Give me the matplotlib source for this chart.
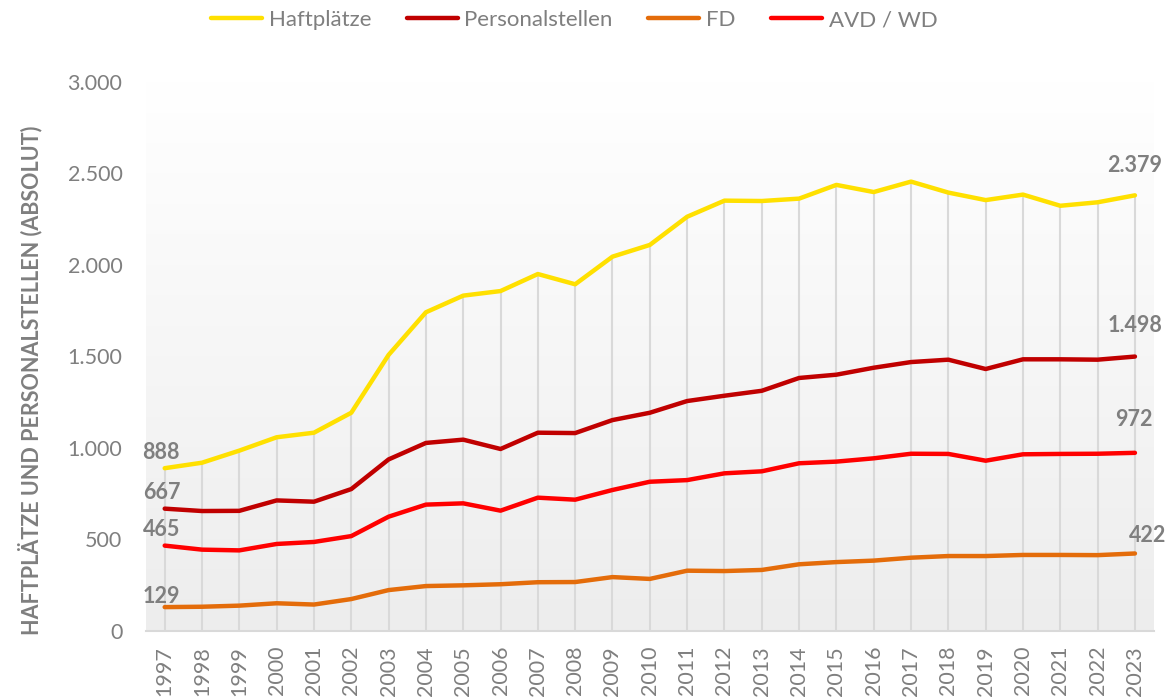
import matplotlib
matplotlib.use("Agg")
import matplotlib.pyplot as plt
import numpy as np

plt.rcParams['font.family'] = ['Lato', 'DejaVu Sans']

years = list(range(1997, 2024))
haftplaetze = [888, 918, 984, 1057, 1082, 1191, 1507, 1740, 1831, 1856, 1949, 1893, 2044, 2108,
               2262, 2350, 2348, 2361, 2436, 2397, 2454, 2394, 2353, 2383, 2322, 2341, 2379]
personal = [667, 654, 655, 712, 705, 774, 936, 1026, 1044, 993, 1082, 1080, 1151, 1191,
            1255, 1284, 1311, 1381, 1399, 1437, 1468, 1481, 1430, 1483, 1483, 1481, 1498]
fd = [129, 131, 137, 150, 143, 173, 222, 244, 248, 254, 265, 266, 293, 283,
      328, 326, 332, 363, 375, 383, 399, 408, 408, 414, 414, 413, 422]
avd = [465, 443, 439, 474, 485, 517, 623, 689, 696, 656, 727, 716, 769, 814,
       823, 860, 871, 915, 924, 942, 967, 966, 929, 964, 966, 967, 972]

series = [("Haftplätze", haftplaetze, "#FFE000"),
          ("Personalstellen", personal, "#C00000"),
          ("FD", fd, "#E46C0A"),
          ("AVD / WD", avd, "#FF0000")]

grey = "#7F7F7F"

fig = plt.figure(figsize=(11.72, 6.97), dpi=100)
ax = fig.add_axes([0.1246, 0.0951, 0.8597, 0.7877])
ax.set_xlim(1996.5, 2023.5)
ax.set_ylim(0, 3000)

# hintergrund: verlauf von weiss (oben) nach hellgrau (unten)
grad = np.linspace(0, 1, 256).reshape(-1, 1)
cmap = matplotlib.colors.LinearSegmentedColormap.from_list("bg", ["#EDEDED", "#FFFFFF"])
ax.imshow(grad, aspect="auto", cmap=cmap, origin="lower",
          extent=[1996.5, 2023.5, 0, 3000], zorder=0)

# lotlinien vom obersten wert bis zur achse
ax.vlines(years, 0, haftplaetze, color="#D9D9D9", lw=1.5, zorder=1)

for name, vals, col in series:
    ax.plot(years, vals, color=col, lw=3.2, label=name, zorder=3,
            solid_capstyle="round", solid_joinstyle="round")

# datenbeschriftung erstes und letztes jahr
lab = dict(fontsize=15.5, fontweight="bold", color=grey, ha="center", va="center",
           textcoords="offset pixels")
first_off = [(-4, 16), (-3, 16), (-3, 11), (-3, 16)]
last_off = [(0, 30), (0, 31), (13, 18), (-1, 33)]
for (name, vals, col), o1, o2 in zip(series, first_off, last_off):
    ax.annotate(f"{vals[0]:,}".replace(",", "."), (years[0], vals[0]), xytext=o1, **lab)
    ax.annotate(f"{vals[-1]:,}".replace(",", "."), (years[-1], vals[-1]), xytext=o2, **lab)

ax.set_xticks(years)
ax.set_xticklabels([str(y) for y in years], rotation=90)
ax.set_yticks(range(0, 3001, 500))
ax.set_yticklabels([f"{v:,}".replace(",", ".") for v in range(0, 3001, 500)])
ax.tick_params(axis="both", length=0, labelsize=15.5, labelcolor=grey)
ax.tick_params(axis="y", pad=17)
ax.tick_params(axis="x", pad=11)

for s in ["top", "right", "left"]:
    ax.spines[s].set_visible(False)
ax.spines["bottom"].set_color("#D9D9D9")
ax.spines["bottom"].set_linewidth(1.5)
ax.spines["bottom"].set_zorder(2)

fig.text(30 / 1172, 0.455, "HAFTPLÄTZE UND PERSONALSTELLEN (ABSOLUT)", rotation=90,
         ha="center", va="center", fontsize=15.5, fontweight="bold", color=grey)

leg = fig.legend(loc="center", bbox_to_anchor=(0.49, 0.971), ncol=4, frameon=False,
                 fontsize=16, handlelength=2.3, handletextpad=0.3, columnspacing=1.6)
for t in leg.get_texts():
    t.set_color(grey)
for h in leg.get_lines():
    h.set_linewidth(3.2)

fig.savefig("out.png", dpi=100)
